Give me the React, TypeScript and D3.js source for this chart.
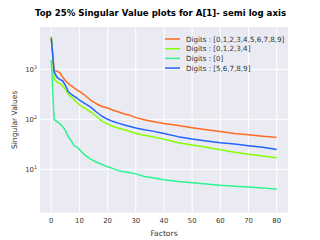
import React from "react";
import { scaleLinear, scaleLog, line } from "d3";

const factors = [0, 1, 2, 3, 4, 5, 6, 7, 8, 9, 10, 12, 14, 16, 18, 20, 22, 24, 26, 28, 30, 33, 36, 40, 45, 50, 55, 60, 65, 70, 75, 80];

const allDigits = [4300, 950, 920, 860, 700, 600, 520, 470, 430, 390, 360, 300, 240, 205, 180, 168, 152, 140, 128, 120, 108, 98, 90, 82, 75, 68, 62, 57, 52, 49, 46, 43.5];
const lowDigits = [4650, 650, 560, 520, 470, 400, 320, 280, 250, 220, 195, 165, 140, 115, 92, 80, 72, 66, 62, 57, 52, 48, 45, 40, 34, 30.5, 27.5, 24.5, 22, 20, 18.5, 17];
const zeroDigit = [1530, 100, 90, 82, 72, 60, 45, 38, 30, 28, 25, 19, 16, 14, 12.5, 11.2, 10.3, 9.3, 8.9, 8.5, 8.1, 7.2, 6.8, 6.2, 5.7, 5.4, 5.1, 4.8, 4.6, 4.45, 4.25, 4.0];
const highDigits = [4200, 900, 700, 630, 590, 480, 360, 320, 290, 270, 243, 205, 175, 140, 115, 100, 90, 83, 77, 72, 67, 62, 58, 52, 45, 40.5, 37, 34, 32, 29.5, 27.5, 25];

const series = [
  { label: "Digits : [0,1,2,3,4,5,6,7,8,9]", values: allDigits, color: "#ff6a1f" },
  { label: "Digits : [0,1,2,3,4]", values: lowDigits, color: "#84ff00" },
  { label: "Digits : [0]", values: zeroDigit, color: "#2cf590" },
  { label: "Digits : [5,6,7,8,9]", values: highDigits, color: "#2264ff" },
];

const xTicks = [0, 10, 20, 30, 40, 50, 60, 70, 80];
const yTicks = [10, 100, 1000];

const W = 320;
const H = 240;
const m = { left: 40, right: 32, top: 27, bottom: 27.3 };

export default function App() {
  const x = scaleLinear().domain([-4, 84]).range([m.left, W - m.right]);
  const y = scaleLog().domain([1.355, 7015]).range([H - m.bottom, m.top]);
  const path = line<number>()
    .x((_, i) => x(factors[i]))
    .y((d) => y(d));

  const font = "DejaVu Sans, sans-serif";
  return (
    <svg width={W} height={H} style={{ position: "absolute", left: 0, top: 0 }} fontFamily={font}>
      <rect width={W} height={H} fill="#fff" />
      <rect x={m.left} y={m.top} width={W - m.left - m.right} height={H - m.top - m.bottom} fill="#eaeaf2" />
      {xTicks.map((t) => (
        <line key={t} x1={x(t)} x2={x(t)} y1={m.top} y2={H - m.bottom} stroke="#fff" strokeWidth={1} />
      ))}
      {yTicks.map((t) => (
        <line key={t} x1={m.left} x2={W - m.right} y1={y(t)} y2={y(t)} stroke="#fff" strokeWidth={1} />
      ))}
      {series.map((s) => (
        <path key={s.label} d={path(s.values) ?? ""} fill="none" stroke={s.color} strokeWidth={1.5} strokeLinejoin="round" />
      ))}
      {xTicks.map((t) => (
        <text key={t} x={x(t)} y={H - m.bottom + 10} fontSize={6.9} textAnchor="middle" fill="#333">
          {t}
        </text>
      ))}
      {yTicks.map((t) => (
        <text key={t} x={m.left - 3} y={y(t) + 2.5} fontSize={6.9} textAnchor="end" fill="#333">
          10
          <tspan fontSize={4.8} dy={-3}>{Math.round(Math.log10(t))}</tspan>
        </text>
      ))}
      <text x={(m.left + W - m.right) / 2} y={H - 4} fontSize={7.6} textAnchor="middle" fill="#333">
        Factors
      </text>
      <text transform={`translate(17,${(m.top + H - m.bottom) / 2}) rotate(-90)`} fontSize={7.6} textAnchor="middle" fill="#333">
        Singular Values
      </text>
      <text x={160.5} y={16} fontSize={8.6} fontWeight="bold" textAnchor="middle" fill="#000">
        Top 25% Singular Value plots for A[1]- semi log axis
      </text>
      {series.map((s, i) => (
        <g key={s.label} transform={`translate(165,${39 + i * 9.7})`}>
          <line x1={0} x2={15} stroke={s.color} strokeWidth={1.5} />
          <text x={21} y={2.5} fontSize={7.1} fill="#333">
            {s.label}
          </text>
        </g>
      ))}
    </svg>
  );
}
